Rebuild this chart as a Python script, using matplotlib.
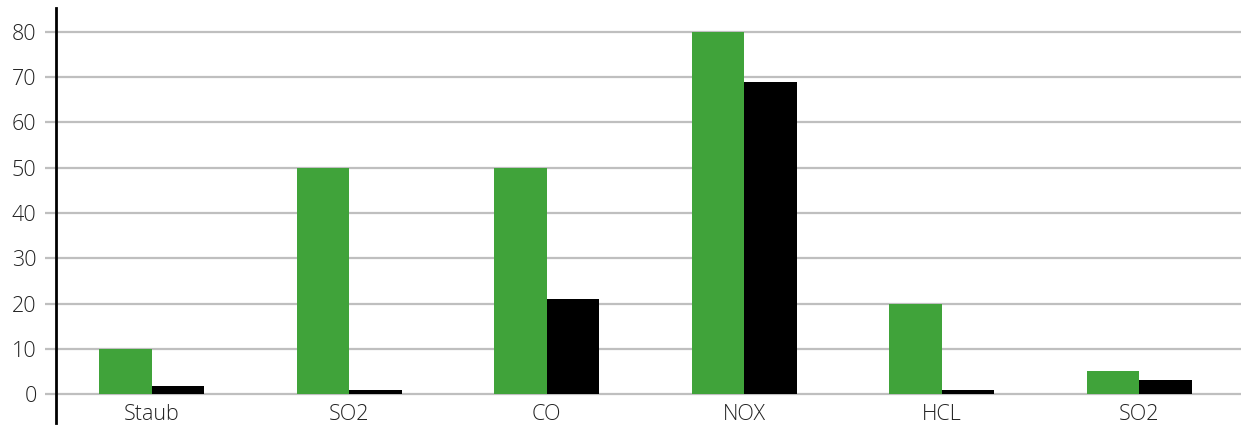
import matplotlib
matplotlib.use("Agg")
import matplotlib.pyplot as plt
import numpy as np

categories = ["Staub", "SO2", "CO", "NOX", "HCL", "SO2"]
limit_values = [10, 50, 50, 80, 20, 5]
measured_values = [1.7, 1, 21, 69, 1, 3]
y_ticks = [0, 10, 20, 30, 40, 50, 60, 70, 80]

plt.rcParams["font.family"] = ["Open Sans", "DejaVu Sans"]
plt.rcParams["font.weight"] = "light"

W, H, DPI = 1241, 429, 100
fig = plt.figure(figsize=(W / DPI, H / DPI), dpi=DPI)
ax = fig.add_axes([56 / W, 6 / H, (W - 56) / W, (423 - 8) / H])

x = np.arange(len(categories))
bw = 0.265
ax.bar(x - bw / 2, limit_values, width=bw, color="#40a33a", zorder=3)
ax.bar(x + bw / 2, measured_values, width=bw, color="#000000", zorder=3)

ax.set_xlim(-0.485, 5.515)
ax.set_ylim(-6.4, 85.3)

ax.set_yticks(y_ticks)
ax.yaxis.grid(True, color="#bfbfbf", linewidth=1.6, zorder=0)
ax.tick_params(axis="y", length=8, width=1.6, color="#bfbfbf", pad=6,
               labelsize=15.5, labelcolor="#222222")

ax.set_xticks(x)
ax.set_xticklabels(categories)
ax.tick_params(axis="x", length=0, pad=-14, labelsize=15.5, labelcolor="#222222")

for side in ("top", "right", "bottom"):
    ax.spines[side].set_visible(False)
ax.spines["left"].set_linewidth(2)
ax.spines["left"].set_color("#000000")
ax.spines["left"].set_zorder(4)

fig.savefig("out.png", dpi=DPI)
